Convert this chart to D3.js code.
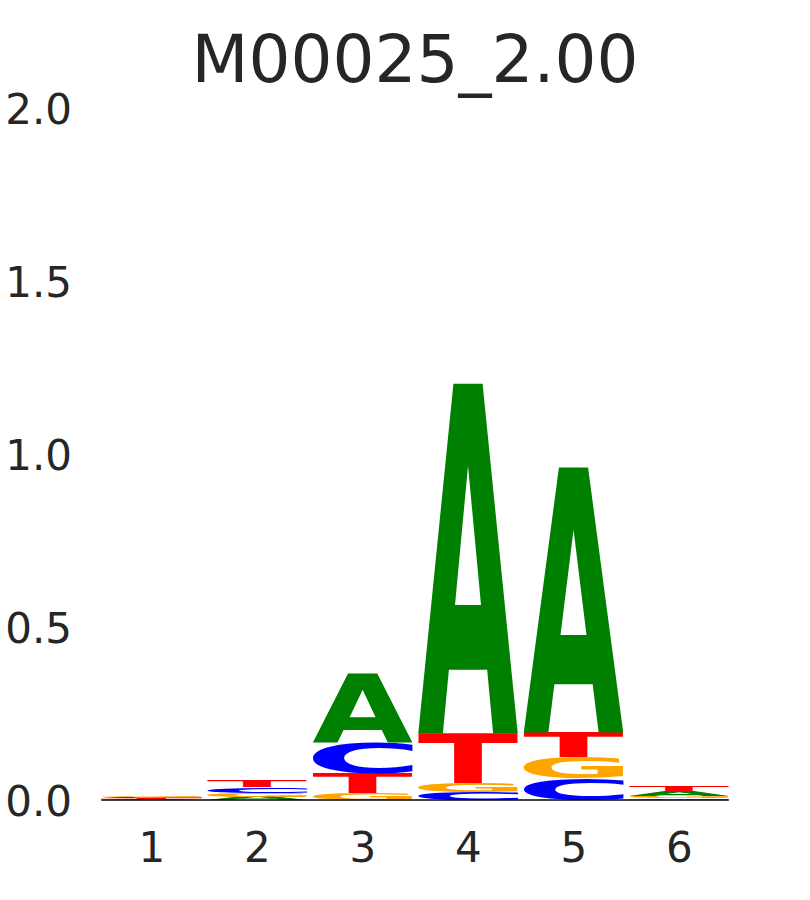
<!DOCTYPE html>
<html>
<head>
<meta charset="utf-8">
<script src="https://cdn.jsdelivr.net/npm/d3@7"></script>
<style>
  html, body { margin: 0; padding: 0; background: #ffffff; }
  svg { display: block; }
</style>
</head>
<body>
<script>
// ---- data ----
const title = "M00025_2.00";
const positions = [1, 2, 3, 4, 5, 6];
const letters = ["A", "C", "G", "T"];
const valuesA = [0.0025, 0.0095, 0.200, 1.012, 0.767, 0.0148];
const valuesC = [0.0032, 0.0160, 0.089, 0.0217, 0.061, 0.0050];
const valuesG = [0.0035, 0.0105, 0.019, 0.0275, 0.063, 0.0066];
const valuesT = [0.0030, 0.0200, 0.058, 0.143, 0.071, 0.0152];
const yTicks = [0.0, 0.5, 1.0, 1.5, 2.0];
const letterColors = { A: "green", C: "blue", G: "orange", T: "red" };

const W = 810, H = 900;
const textColor = "#262626";
const fontFam = "'DejaVu Sans', sans-serif";

const svg = d3.select("body").append("svg")
  .attr("width", W).attr("height", H);

const x = d3.scaleLinear().domain([0.5, 6.5]).range([98.5, 731.5]);
const y = d3.scaleLinear().domain([0, 2]).range([800, 108]);
const step = x(2) - x(1);
const glyphWidth = 0.95 * step;

// title
svg.append("text")
  .attr("x", 415).attr("y", 82)
  .attr("text-anchor", "middle")
  .attr("font-family", fontFam)
  .attr("font-size", 66)
  .attr("fill", textColor)
  .text(title);

// measure glyph ink bounds
const canvas = document.createElement("canvas");
const ctx = canvas.getContext("2d");
const glyphFontSize = 200;
ctx.font = `bold ${glyphFontSize}px 'DejaVu Sans'`;
const metrics = {};
letters.forEach(l => {
  const m = ctx.measureText(l);
  metrics[l] = {
    L: m.actualBoundingBoxLeft,
    R: m.actualBoundingBoxRight,
    A: m.actualBoundingBoxAscent,
    D: m.actualBoundingBoxDescent
  };
});

// stacks
const series = { A: valuesA, C: valuesC, G: valuesG, T: valuesT };
const stacks = [];
positions.forEach((p, i) => {
  const col = letters.map(l => ({ letter: l, value: series[l][i], pos: p }));
  col.sort((a, b) => a.value - b.value);
  let cum = 0;
  col.forEach(d => { d.y0 = cum; cum += d.value; d.y1 = cum; stacks.push(d); });
});

const glyphs = svg.append("g").attr("class", "glyphs");
glyphs.selectAll("text").data(stacks).enter().append("text")
  .attr("font-family", "'DejaVu Sans'")
  .attr("font-weight", "bold")
  .attr("font-size", glyphFontSize)
  .attr("fill", d => letterColors[d.letter])
  .attr("transform", d => {
    const m = metrics[d.letter];
    const x0 = x(d.pos) - glyphWidth / 2;
    const yTop = y(d.y1);
    const h = y(d.y0) - y(d.y1);
    const sx = glyphWidth / (m.L + m.R);
    const sy = h / (m.A + m.D);
    return `translate(${x0},${yTop}) scale(${sx},${sy}) translate(${m.L},${m.A})`;
  })
  .text(d => d.letter);

// baseline
svg.append("line")
  .attr("x1", x(1) - glyphWidth / 2)
  .attr("x2", x(6) + glyphWidth / 2)
  .attr("y1", y(0)).attr("y2", y(0))
  .attr("stroke", "black").attr("stroke-width", 1.5);

// y axis
const yAxis = d3.axisLeft(y).tickValues(yTicks).tickFormat(d3.format(".1f"))
  .tickSize(0).tickPadding(0);
const gy = svg.append("g").attr("transform", "translate(72,0)").call(yAxis);
gy.select(".domain").remove();
gy.selectAll("text")
  .attr("font-family", fontFam).attr("font-size", 42)
  .attr("fill", textColor).attr("dy", "0.365em");

// x axis
const xAxis = d3.axisBottom(x).tickValues(positions).tickFormat(d3.format("d"))
  .tickSize(0).tickPadding(0);
const gx = svg.append("g").attr("transform", "translate(0,832)").call(xAxis);
gx.select(".domain").remove();
gx.selectAll("text")
  .attr("font-family", fontFam).attr("font-size", 42)
  .attr("fill", textColor);
</script>
</body>
</html>
